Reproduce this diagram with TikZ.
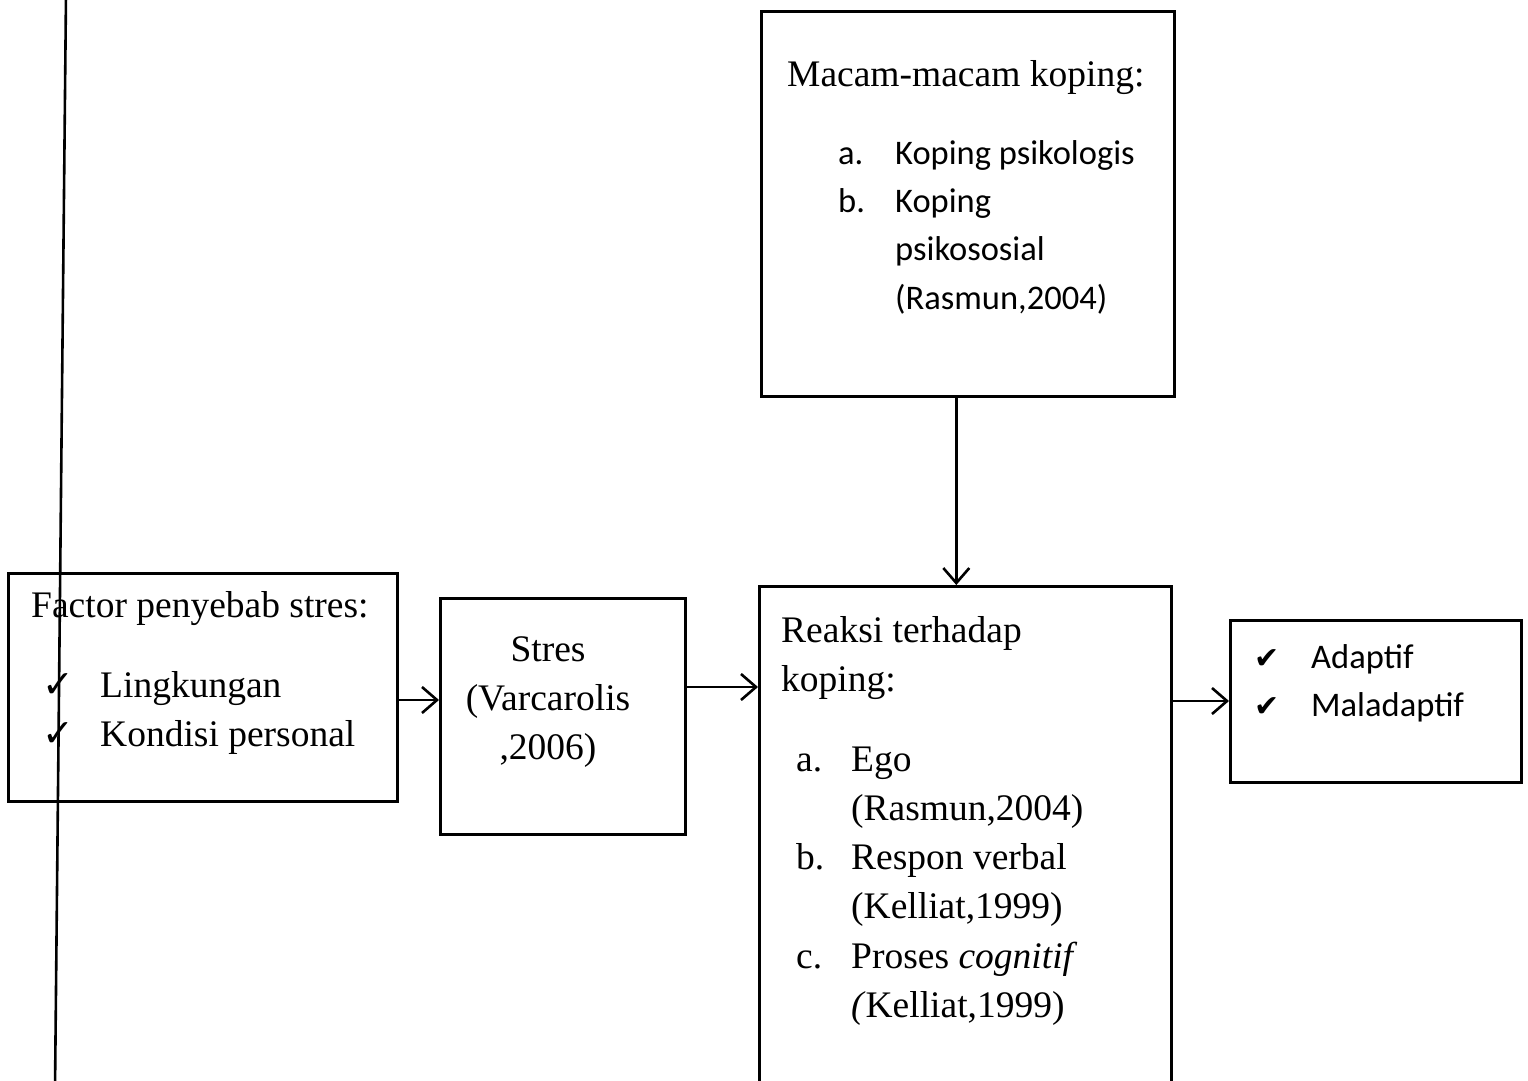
\documentclass[tikz,border=0pt]{standalone}
\usepackage{fontspec}
\setmainfont{Liberation Serif}
\newfontfamily\calib{Carlito}
\newfontfamily\dejavu{DejaVu Sans}
\usetikzlibrary{arrows.meta}
\begin{document}
\begin{tikzpicture}[x=1pt,y=-1pt,
  box/.style={draw, line width=2.6pt, inner sep=0pt, anchor=north west},
  ser/.style={inner sep=0pt, anchor=base west, font=\fontsize{37.5}{49}\selectfont},
  san/.style={inner sep=0pt, anchor=base west, font=\calib\fontsize{34.5}{48}\selectfont},
  chk/.style={inner sep=0pt, anchor=base west, font=\dejavu\fontsize{38}{40}\selectfont},
  chkb/.style={inner sep=0pt, anchor=base west, font=\dejavu\fontsize{30}{32}\selectfont},
  arr/.style={-{Straight Barb[length=15pt,width=26pt]}, line width=2.6pt}]
\useasboundingbox (0,0) rectangle (1528,1081);
\clip (0,0) rectangle (1528,1081);
\fill[white] (0,0) rectangle (1528,1081);

% boxes
\node[box, minimum width=389pt, minimum height=228pt] (b1) at (7,572) {};
\node[box, minimum width=245pt, minimum height=236pt] (b2) at (439,597) {};
\node[box, minimum width=413pt, minimum height=385pt] (b3) at (760,10) {};
\node[box, minimum width=412pt, minimum height=560pt] (b4) at (758,585) {};
\node[box, minimum width=291pt, minimum height=162pt] (b5) at (1229,619) {};

% box 1 text
\node[ser] (t11) at (31,617) {Factor penyebab stres:};
\node[chk] (c11) at (42,697) {✓};
\node[ser] (t12) at (100,697) {Lingkungan};
\node[chk] (c12) at (42,746) {✓};
\node[ser] (t13) at (100,746) {Kondisi personal};

% box 2 text
\node[ser, anchor=base] (t21) at (548,661) {Stres};
\node[ser, anchor=base] (t22) at (548,710) {(Varcarolis};
\node[ser, anchor=base] (t23) at (548,759) {,2006)};

% box 3 text
\node[ser] (t31) at (787,86) {Macam-macam koping:};
\node[san] (t32a) at (838,164) {a.};
\node[san] (t32) at (895,164) {Koping psikologis};
\node[san] (t33a) at (838,212) {b.};
\node[san] (t33) at (895,212) {Koping};
\node[san] (t34) at (895,260) {psikososial};
\node[san] (t35) at (895,309) {(Rasmun,2004)};

% box 4 text
\node[ser] (t41) at (781,642) {Reaksi terhadap};
\node[ser] (t42) at (781,691) {koping:};
\node[ser] (t43a) at (796,771) {a.};
\node[ser] (t43) at (851,771) {Ego};
\node[ser] (t44) at (851,820) {(Rasmun,2004)};
\node[ser] (t45a) at (796,869) {b.};
\node[ser] (t45) at (851,869) {Respon verbal};
\node[ser] (t46) at (851,918) {(Kelliat,1999)};
\node[ser] (t47a) at (796,968) {c.};
\node[ser] (t47) at (851,968) {Proses \textit{cognitif}};
\node[ser] (t48) at (851,1017) {\textit{(}Kelliat,1999)};

% box 5 text
\node[chkb] (c51) at (1254,668) {✔};
\node[san] (t51) at (1311,668) {Adaptif};
\node[chkb] (c52) at (1254,716) {✔};
\node[san] (t52) at (1311,716) {Maladaptif};

% connectors
\coordinate (p1) at ([yshift=-128pt]b1.north east);
\draw[arr] (p1) -- (p1 -| b2.west);
\coordinate (p2) at ([yshift=-90pt]b2.north east);
\draw[arr] (p2) -- (p2 -| b4.west);
\coordinate (p3) at ([yshift=-116pt]b4.north east);
\draw[arr] (p3) -- (p3 -| b5.west);
\coordinate (p4) at ([xshift=-11.5pt]b3.south);
\draw[arr] (p4) -- (p4 |- b4.north);

% long vertical line
\coordinate (lt) at (66,-5);
\coordinate (lb) at (55,1090);
\draw[line width=2.6pt] (lt) -- (lb);
\end{tikzpicture}
\end{document}
